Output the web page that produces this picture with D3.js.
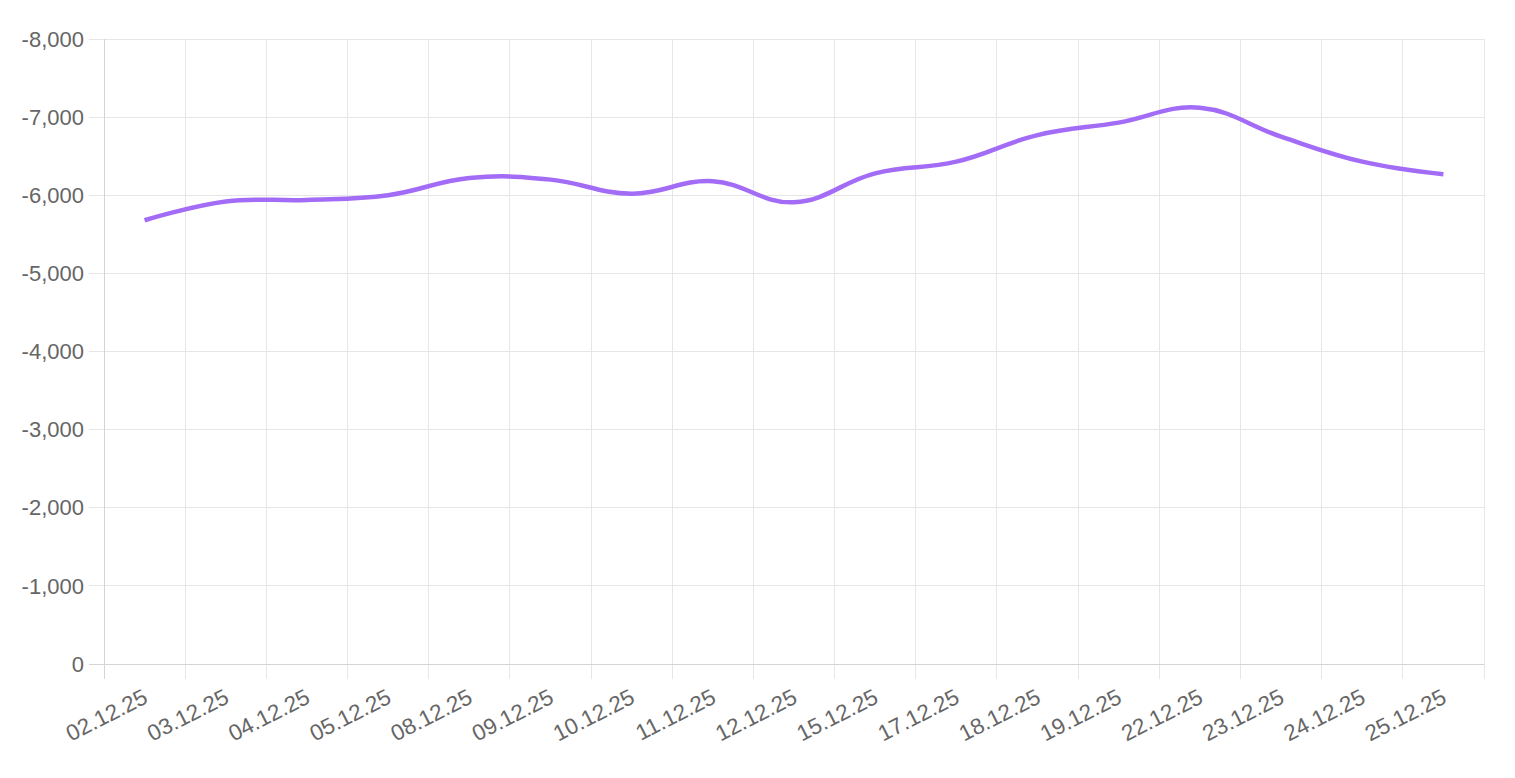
<!DOCTYPE html>
<html>
<head>
<meta charset="utf-8">
<script src="https://cdn.jsdelivr.net/npm/d3@7"></script>
<style>
  html, body { margin: 0; padding: 0; background: #fff; }
  svg { display: block; }
  text { font-family: "Liberation Sans", Arial, Helvetica, sans-serif; fill: #666; }
</style>
</head>
<body>
<svg id="chart" width="1515" height="778"></svg>
<script>
const categories = ["02.12.25","03.12.25","04.12.25","05.12.25","08.12.25","09.12.25","10.12.25","11.12.25","12.12.25","15.12.25","17.12.25","18.12.25","19.12.25","22.12.25","23.12.25","24.12.25","25.12.25"];
const values = [-5680, -5920, -5940, -6000, -6220, -6200, -6020, -6180, -5910, -6280, -6430, -6770, -6930, -7120, -6750, -6430, -6270];
const yTicks = [0, -1000, -2000, -3000, -4000, -5000, -6000, -7000, -8000];

const plotLeft = 104, plotRight = 1484, plotTop = 39, plotBottom = 664;
const svg = d3.select("#chart");
const fmt = d3.formatLocale({decimal: ".", thousands: ",", grouping: [3], currency: ["$", ""], minus: "-"}).format(",");

const x = d3.scaleBand().domain(categories).range([plotLeft, plotRight]);
const y = d3.scaleLinear().domain([0, -8000]).range([plotBottom, plotTop]);

const gridColor = "#e6e6e6";
const axisColor = "#d4d4d4";

// vertical grid lines at band boundaries
const bounds = categories.map(c => x(c)).concat([plotRight]);
svg.append("g").selectAll("line").data(bounds).join("line")
  .attr("x1", d => d).attr("x2", d => d)
  .attr("y1", plotTop).attr("y2", plotBottom + 15)
  .attr("stroke", gridColor).attr("stroke-width", 1)
  .attr("shape-rendering", "crispEdges");

// horizontal grid lines
svg.append("g").selectAll("line").data(yTicks).join("line")
  .attr("x1", plotLeft - 15).attr("x2", plotRight)
  .attr("y1", d => y(d)).attr("y2", d => y(d))
  .attr("stroke", gridColor).attr("stroke-width", 1)
  .attr("shape-rendering", "crispEdges");

// axis lines
svg.append("line").attr("x1", plotLeft).attr("x2", plotLeft).attr("y1", plotTop).attr("y2", plotBottom + 15)
  .attr("stroke", axisColor).attr("shape-rendering", "crispEdges");
svg.append("line").attr("x1", plotLeft - 15).attr("x2", plotRight).attr("y1", plotBottom).attr("y2", plotBottom)
  .attr("stroke", axisColor).attr("shape-rendering", "crispEdges");

// y labels
svg.append("g").selectAll("text").data(yTicks).join("text")
  .attr("x", plotLeft - 20).attr("y", d => y(d))
  .attr("dy", "0.35em")
  .attr("text-anchor", "end")
  .attr("font-size", 22)
  .text(d => fmt(d));

// x labels
const cx = d => x(d) + x.bandwidth() / 2;
svg.append("g").selectAll("text").data(categories).join("text")
  .attr("transform", d => `translate(${cx(d) + 1},${plotBottom + 31}) rotate(-27)`)
  .attr("dy", "0.35em")
  .attr("text-anchor", "end")
  .attr("font-size", 22.5)
  .text(d => d);

// line
const line = d3.line()
  .x((d, i) => cx(categories[i]))
  .y(d => y(d))
  .curve(d3.curveCardinal.tension(-0.2));
svg.append("path").datum(values)
  .attr("d", line)
  .attr("fill", "none")
  .attr("stroke", "#a36cf6")
  .attr("stroke-width", 4.5);
</script>
</body>
</html>
